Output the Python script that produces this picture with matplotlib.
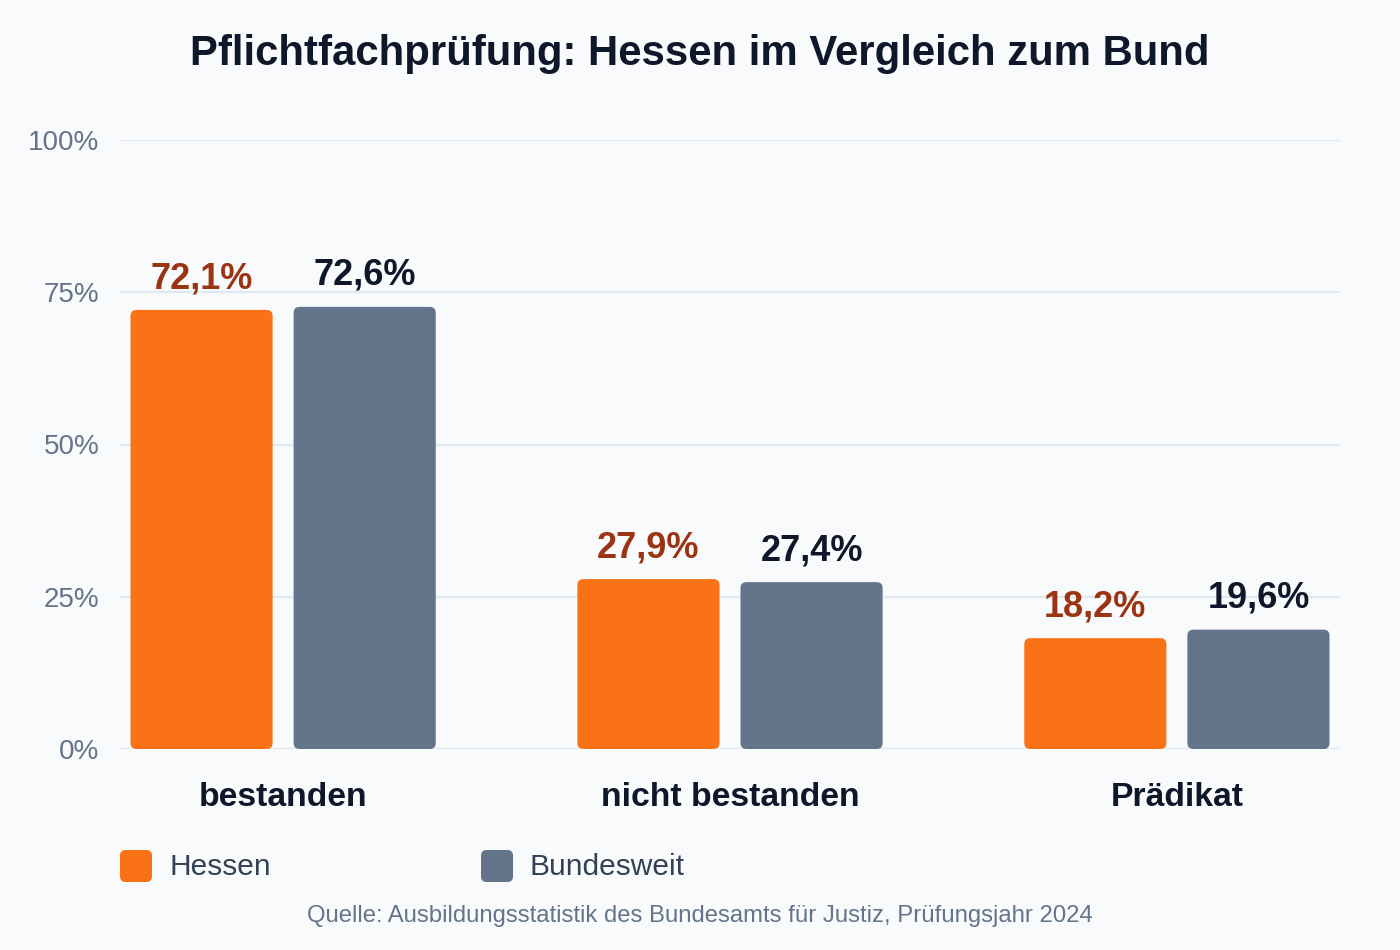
import numpy as np
import matplotlib.pyplot as plt
from matplotlib.patches import FancyBboxPatch

plt.rcParams['font.family'] = ['Liberation Sans', 'DejaVu Sans']

# data
categories = ['bestanden', 'nicht bestanden', 'Prädikat']
series_names = ['Hessen', 'Bundesweit']
hessen = [72.1, 27.9, 18.2]
bund = [72.6, 27.4, 19.6]
y_ticks = [0, 25, 50, 75, 100]
title = 'Pflichtfachprüfung: Hessen im Vergleich zum Bund'
source = 'Quelle: Ausbildungsstatistik des Bundesamts für Justiz, Prüfungsjahr 2024'

bg = '#f8fafc'
bar_colors = ['#f97316', '#64748b']
label_colors = ['#9a3412', '#0f172a']

fig = plt.figure(figsize=(14, 9.5), dpi=100, facecolor=bg)
ax = fig.add_axes([120/1400, 201/950, 1220/1400, 609/950])
ax.set_facecolor(bg)

x = np.arange(len(categories))
width = 0.318
offset = 0.1825
xlim = (-0.365, 2.365)
ylim = (0, 100)
ax.set_xlim(*xlim)
ax.set_ylim(*ylim)

# rounding in data units, corrected for aspect
px_x = (xlim[1] - xlim[0]) / 1220.
px_y = (ylim[1] - ylim[0]) / 609.
r = 6 * px_x
aspect = px_y / px_x

for i, (vals, col, lcol) in enumerate(zip([hessen, bund], bar_colors, label_colors)):
    pos = x + (offset if i == 1 else -offset)
    for xp, v in zip(pos, vals):
        patch = FancyBboxPatch((xp - width/2, 0), width, v,
                               boxstyle='round,pad=0,rounding_size=%f' % r,
                               mutation_aspect=aspect, facecolor=col,
                               edgecolor='none', zorder=3)
        ax.add_patch(patch)
        ax.annotate(('%.1f%%' % v).replace('.', ','), (xp, v),
                    xytext=(0, 10), textcoords='offset points',
                    ha='center', va='bottom', fontsize=26,
                    fontweight='bold', color=lcol, zorder=4)

ax.set_yticks(y_ticks)
ax.set_yticklabels(['%d%%' % t for t in y_ticks])
ax.set_xticks(x)
ax.set_xticklabels(categories, fontsize=24.3, fontweight='bold', color='#0f172a')
ax.tick_params(axis='x', length=0, pad=24)
ax.tick_params(axis='y', length=0, pad=15, labelsize=20, labelcolor='#64748b')
ax.grid(axis='y', color='#e2e8f0', linewidth=1.6, zorder=0)
for s in ax.spines.values():
    s.set_visible(False)
ax.set_axisbelow(True)

fig.text(0.5, 1 - 54/950, title, ha='center', va='center', fontsize=30.2,
         fontweight='bold', color='#0f172a')

# legend
leg_x = [120, 481]
for lx, name, col in zip(leg_x, series_names, bar_colors):
    sq = FancyBboxPatch((lx/1400, (950-882)/950), 32/1400, 32/950,
                        boxstyle='round,pad=0,rounding_size=0.004',
                        mutation_aspect=1400/950., transform=fig.transFigure,
                        facecolor=col, edgecolor='none')
    fig.patches.append(sq)
    fig.text((lx + 49)/1400, 1 - 867/950, name, ha='left', va='center',
             fontsize=21.5, color='#334155')

fig.text(0.5, 1 - 916/950, source, ha='center', va='center', fontsize=17.2,
         color='#64748b')

fig.savefig('out.png', dpi=100, facecolor=bg)
